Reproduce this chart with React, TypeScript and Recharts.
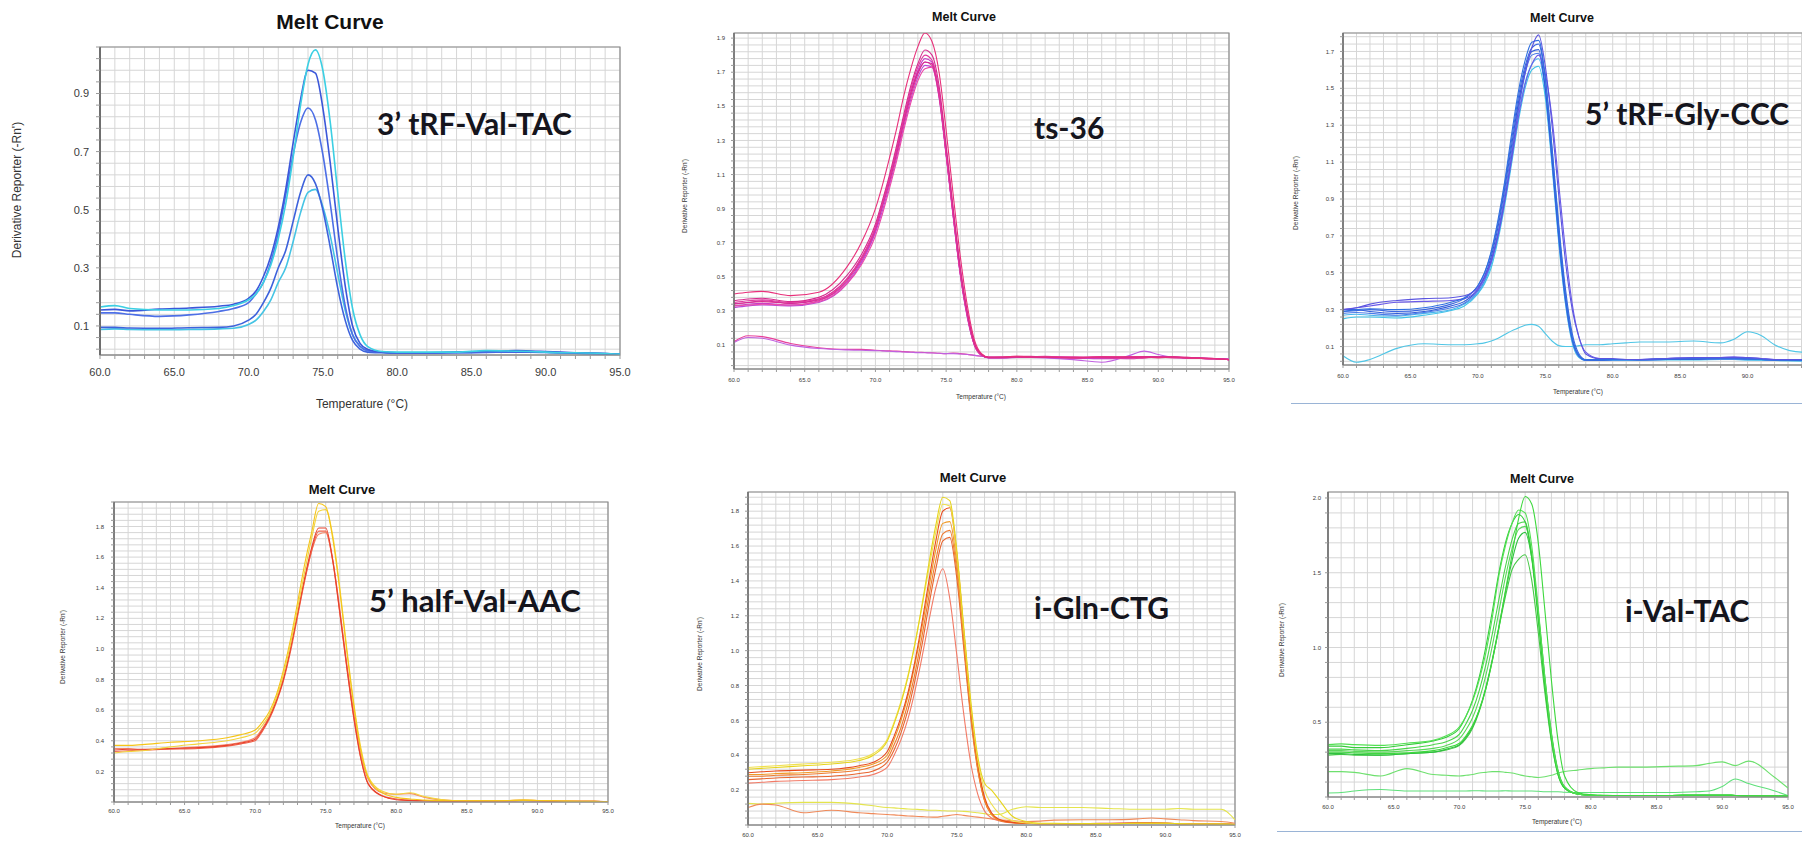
import React from 'react'
import { LineChart, Line, XAxis, YAxis, CartesianGrid, ReferenceArea } from 'recharts'

// sample temperatures (°C) shared by every curve
const TEMPS = [
  60, 61, 62, 64, 66, 68, 69,
  70, 70.5, 71, 71.5, 72, 72.5, 73, 73.5,
  74, 74.5, 75, 75.5, 76, 76.5, 77, 77.5, 78,
  79, 80, 81, 82, 84, 86, 88, 89, 90, 91, 92, 94, 95,
]
const DEG_TICKS = Array.from({ length: 36 }, (_, i) => 60 + i)
const X_LABELS = [60, 65, 70, 75, 80, 85, 90, 95]
// the right-hand screenshot is cropped before its last label
const X_LABELS_CROPPED = [60, 65, 70, 75, 80, 85, 90]

// 3' tRF-Val-TAC
const valTacA = [.165, .17, .16, .155, .155, .16, .17, .19, .21, .25, .31, .40, .52, .68, .86, 1.0, 1.05, .98, .80, .56, .33, .16, .07, .03, .012, .01, .01, .01, .01, .015, .013, .012, .01, .008, .008, .005, .003]
const valTacB = [.155, .157, .152, .158, .162, .168, .175, .195, .22, .27, .34, .44, .57, .73, .88, .98, .97, .85, .66, .44, .24, .10, .04, .02, .01, .008, .008, .008, .01, .012, .015, .014, .012, .01, .008, .005, .003]
const valTacC = [.145, .145, .14, .133, .138, .15, .16, .18, .21, .25, .32, .42, .55, .69, .80, .85, .81, .69, .52, .33, .17, .07, .03, .015, .01, .008, .008, .008, .008, .01, .012, .012, .01, .008, .006, .005, .003]
const valTacD = [.095, .095, .093, .092, .094, .095, .10, .12, .14, .18, .23, .30, .36, .46, .56, .62, .59, .50, .37, .23, .12, .05, .02, .01, .008, .007, .007, .007, .008, .009, .01, .01, .009, .007, .006, .004, .002]
const valTacE = [.088, .09, .088, .087, .088, .09, .092, .105, .12, .15, .19, .25, .30, .39, .49, .56, .57, .51, .41, .28, .155, .07, .03, .015, .01, .008, .008, .008, .01, .012, .012, .011, .01, .008, .006, .004, .002]

// ts-36
const ts36A = [.40, .41, .415, .39, .41, .56, .70, .90, 1.04, 1.20, 1.37, 1.56, 1.72, 1.85, 1.93, 1.88, 1.70, 1.36, .98, .62, .33, .13, .05, .03, .03, .035, .03, .03, .025, .03, .03, .03, .025, .03, .025, .02, .015]
const ts36B = [.36, .37, .375, .355, .38, .51, .63, .81, .95, 1.10, 1.27, 1.45, 1.62, 1.75, 1.83, 1.80, 1.62, 1.27, .90, .55, .29, .11, .045, .027, .028, .03, .032, .028, .026, .03, .028, .03, .03, .032, .028, .022, .015]
const ts36C = [.35, .36, .365, .35, .37, .49, .61, .79, .93, 1.08, 1.25, 1.43, 1.60, 1.73, 1.80, 1.77, 1.58, 1.22, .86, .52, .27, .10, .04, .026, .027, .028, .03, .035, .028, .025, .02, .025, .03, .03, .025, .02, .015]
const ts36D = [.33, .34, .345, .335, .36, .47, .59, .77, .91, 1.06, 1.23, 1.41, 1.58, 1.71, 1.78, 1.76, 1.57, 1.22, .86, .52, .27, .10, .04, .025, .025, .03, .03, .03, .025, .02, .025, .03, .03, .028, .025, .02, .015]
const ts36E = [.34, .35, .355, .345, .365, .48, .60, .78, .92, 1.06, 1.22, 1.40, 1.56, 1.69, 1.76, 1.74, 1.56, 1.22, .86, .52, .27, .10, .04, .026, .026, .028, .03, .03, .03, .028, .03, .032, .03, .028, .025, .02, .015]
const ts36F = [.32, .33, .335, .33, .35, .46, .58, .76, .89, 1.04, 1.20, 1.38, 1.54, 1.67, 1.74, 1.73, 1.55, 1.21, .85, .51, .26, .10, .04, .025, .025, .028, .03, .028, .025, .022, .025, .03, .03, .03, .025, .02, .015]
const ts36G = [.33, .335, .34, .335, .355, .46, .57, .74, .87, 1.02, 1.18, 1.36, 1.52, 1.65, 1.72, 1.73, 1.56, 1.23, .87, .53, .28, .11, .045, .027, .028, .03, .03, .03, .028, .03, .03, .028, .03, .03, .028, .022, .016]
const ts36H = [.345, .35, .36, .345, .37, .49, .61, .79, .93, 1.08, 1.24, 1.42, 1.58, 1.70, 1.76, 1.75, 1.58, 1.25, .89, .55, .29, .11, .045, .027, .027, .03, .03, .03, .028, .03, .03, .03, .032, .03, .026, .02, .015]
const ts36NoiseA = [.12, .155, .15, .11, .085, .075, .075, .07, .068, .066, .065, .062, .06, .058, .057, .055, .052, .05, .054, .05, .046, .04, .035, .03, .03, .035, .035, .03, .025, .03, .025, .025, .03, .025, .025, .02, .02]
const ts36NoiseB = [.115, .145, .14, .10, .08, .072, .07, .068, .066, .064, .062, .06, .058, .056, .055, .054, .052, .05, .05, .048, .045, .04, .035, .03, .03, .03, .028, .025, .015, .0, .04, .065, .045, .03, .025, .02, .018]

// 5' tRF-Gly-CCC
const glyA = [.30, .31, .33, .35, .36, .365, .375, .42, .48, .57, .71, .90, 1.13, 1.38, 1.58, 1.72, 1.79, 1.62, 1.30, .92, .56, .30, .15, .06, .035, .035, .03, .03, .035, .04, .04, .04, .04, .035, .03, .03, .025]
const glyB = [.29, .295, .30, .29, .30, .33, .36, .43, .50, .61, .77, .98, 1.22, 1.45, 1.62, 1.72, 1.74, 1.55, 1.18, .76, .41, .17, .06, .03, .028, .03, .03, .03, .035, .035, .035, .04, .035, .03, .03, .028, .025]
const glyC = [.30, .30, .29, .28, .29, .32, .345, .41, .48, .59, .75, .96, 1.19, 1.42, 1.60, 1.70, 1.71, 1.50, 1.12, .70, .36, .14, .05, .028, .028, .03, .03, .028, .03, .032, .035, .035, .035, .03, .028, .026, .022]
const glyD = [.28, .285, .28, .27, .285, .31, .335, .40, .46, .57, .72, .93, 1.16, 1.40, 1.58, 1.68, 1.69, 1.49, 1.10, .68, .34, .13, .045, .025, .025, .028, .028, .028, .03, .03, .032, .032, .03, .03, .026, .025, .02]
const glyE = [.27, .275, .27, .265, .28, .30, .33, .39, .45, .55, .70, .90, 1.13, 1.36, 1.53, 1.63, 1.66, 1.49, 1.12, .70, .36, .14, .05, .026, .025, .025, .026, .028, .03, .03, .03, .03, .028, .028, .025, .022, .02]
const glyF = [.25, .26, .26, .255, .27, .295, .32, .385, .44, .53, .68, .87, 1.09, 1.32, 1.50, 1.60, 1.62, 1.45, 1.08, .66, .33, .12, .04, .024, .024, .025, .025, .026, .028, .028, .03, .03, .028, .026, .024, .022, .02]
const glyG = [.30, .31, .32, .34, .345, .35, .36, .41, .47, .56, .70, .89, 1.11, 1.34, 1.52, 1.63, 1.68, 1.58, 1.34, .98, .62, .33, .15, .07, .035, .03, .03, .03, .035, .04, .04, .045, .04, .035, .03, .03, .025]
const glyH = [.29, .30, .305, .30, .31, .34, .365, .43, .50, .62, .79, 1.00, 1.25, 1.48, 1.65, 1.75, 1.76, 1.56, 1.17, .74, .38, .15, .05, .028, .028, .03, .03, .03, .032, .035, .035, .035, .032, .03, .028, .026, .022]
const glyNoise = [.05, .015, .03, .09, .115, .11, .11, .115, .12, .13, .145, .165, .185, .20, .215, .22, .21, .17, .13, .105, .10, .10, .105, .11, .11, .115, .12, .125, .125, .13, .12, .14, .18, .16, .11, .07, .075]

// 5' half-Val-AAC
const halfA = [.37, .37, .375, .39, .40, .42, .44, .47, .52, .59, .70, .86, 1.06, 1.30, 1.55, 1.76, 1.95, 1.93, 1.72, 1.38, .98, .62, .33, .16, .06, .03, .02, .012, .008, .008, .01, .012, .01, .008, .006, .004, .002]
const halfB = [.32, .33, .335, .36, .38, .40, .42, .45, .50, .57, .68, .83, 1.03, 1.26, 1.50, 1.72, 1.90, 1.91, 1.74, 1.40, 1.00, .64, .35, .17, .07, .05, .06, .035, .01, .008, .01, .012, .01, .008, .006, .004, .002]
const halfC = [.34, .345, .345, .35, .355, .37, .385, .41, .47, .55, .66, .80, 1.00, 1.23, 1.46, 1.66, 1.79, 1.79, 1.58, 1.24, .88, .55, .28, .12, .04, .015, .01, .008, .006, .006, .008, .01, .008, .006, .005, .004, .002]
const halfD = [.33, .335, .34, .345, .35, .365, .38, .40, .46, .54, .65, .79, .98, 1.21, 1.44, 1.64, 1.77, 1.77, 1.57, 1.23, .87, .54, .28, .12, .04, .02, .012, .008, .006, .006, .008, .01, .008, .006, .005, .004, .002]
const halfE = [.35, .35, .34, .35, .36, .375, .39, .42, .48, .56, .67, .81, 1.00, 1.22, 1.45, 1.64, 1.75, 1.76, 1.58, 1.26, .90, .58, .31, .15, .06, .05, .055, .03, .01, .008, .01, .012, .01, .008, .006, .004, .002]

// i-Gln-CTG
const glnA = [.32, .325, .33, .34, .35, .37, .40, .48, .58, .70, .85, 1.04, 1.26, 1.50, 1.72, 1.88, 1.86, 1.58, 1.14, .72, .40, .24, .20, .15, .05, .02, .01, .01, .008, .008, .01, .01, .01, .008, .006, .005, .003]
const glnB = [.33, .335, .34, .35, .36, .38, .41, .49, .59, .71, .86, 1.04, 1.25, 1.47, 1.68, 1.84, 1.83, 1.56, 1.12, .70, .38, .20, .12, .07, .025, .012, .008, .008, .008, .008, .01, .01, .01, .008, .006, .005, .003]
const glnC = [.30, .305, .31, .315, .32, .34, .36, .42, .51, .62, .76, .94, 1.16, 1.40, 1.63, 1.80, 1.82, 1.56, 1.12, .68, .36, .16, .07, .035, .015, .01, .008, .008, .008, .01, .012, .012, .01, .008, .006, .005, .003]
const glnD = [.29, .29, .295, .30, .31, .33, .35, .40, .49, .60, .74, .92, 1.13, 1.36, 1.58, 1.73, 1.74, 1.50, 1.08, .66, .34, .15, .06, .03, .015, .01, .008, .008, .008, .008, .01, .01, .01, .008, .006, .005, .003]
const glnE = [.28, .28, .285, .29, .30, .315, .335, .38, .46, .56, .70, .87, 1.08, 1.31, 1.52, 1.67, 1.69, 1.46, 1.05, .64, .33, .14, .06, .03, .014, .01, .008, .008, .008, .008, .01, .01, .01, .008, .006, .005, .003]
const glnF = [.26, .265, .27, .275, .28, .295, .31, .36, .43, .53, .66, .83, 1.03, 1.26, 1.47, 1.63, 1.65, 1.42, 1.02, .62, .32, .14, .06, .03, .014, .01, .008, .008, .008, .008, .01, .01, .01, .008, .006, .005, .003]
const glnG = [.24, .245, .25, .255, .26, .275, .29, .33, .40, .49, .61, .77, .96, 1.17, 1.36, 1.47, 1.30, .98, .64, .36, .18, .08, .04, .025, .012, .01, .008, .008, .008, .008, .01, .01, .01, .008, .006, .005, .003]
const glnNoiseA = [.124, .12, .125, .13, .13, .12, .11, .10, .098, .095, .092, .09, .088, .085, .085, .082, .08, .08, .078, .075, .07, .065, .06, .06, .09, .105, .10, .10, .10, .095, .09, .09, .09, .095, .09, .09, .03]
const glnNoiseB = [.10, .12, .115, .07, .085, .07, .065, .06, .058, .055, .052, .05, .048, .046, .045, .05, .055, .06, .055, .05, .045, .04, .035, .03, .025, .02, .022, .028, .03, .03, .035, .04, .035, .03, .025, .02, .01]

// i-Val-TAC
const iValA = [.30, .30, .295, .29, .295, .31, .33, .36, .41, .48, .58, .72, .91, 1.13, 1.38, 1.62, 1.86, 2.01, 1.96, 1.70, 1.25, .78, .38, .14, .03, .015, .012, .01, .01, .01, .012, .012, .012, .01, .008, .006, .004]
const iValB = [.35, .355, .35, .345, .36, .38, .41, .47, .54, .64, .78, .96, 1.20, 1.48, 1.68, 1.83, 1.92, 1.90, 1.68, 1.26, .80, .42, .17, .07, .02, .012, .01, .01, .01, .01, .012, .012, .012, .01, .008, .006, .004]
const iValC = [.34, .34, .33, .33, .35, .375, .40, .46, .54, .65, .80, 1.00, 1.24, 1.50, 1.70, 1.83, 1.89, 1.84, 1.60, 1.18, .74, .38, .15, .06, .02, .012, .01, .01, .01, .01, .012, .012, .012, .01, .008, .006, .004]
const iValD = [.32, .32, .315, .31, .325, .35, .37, .42, .49, .58, .71, .88, 1.09, 1.32, 1.54, 1.72, 1.83, 1.84, 1.62, 1.22, .76, .40, .16, .06, .02, .012, .01, .01, .01, .01, .012, .012, .012, .01, .008, .006, .004]
const iValE = [.29, .29, .285, .28, .29, .30, .32, .35, .40, .47, .58, .73, .92, 1.14, 1.37, 1.58, 1.73, 1.77, 1.60, 1.24, .80, .43, .18, .07, .02, .012, .01, .01, .01, .01, .012, .012, .012, .01, .008, .006, .004]
const iValF = [.31, .31, .305, .30, .31, .325, .345, .39, .45, .53, .65, .81, 1.01, 1.24, 1.47, 1.66, 1.79, 1.81, 1.62, 1.22, .78, .41, .17, .06, .02, .012, .01, .01, .01, .01, .012, .012, .012, .01, .008, .006, .004]
const iValG = [.28, .285, .28, .28, .29, .30, .315, .345, .39, .46, .57, .72, .91, 1.13, 1.34, 1.52, 1.59, 1.62, 1.45, 1.10, .70, .37, .15, .06, .02, .012, .01, .01, .01, .01, .012, .012, .012, .01, .008, .006, .004]
const iValNoiseA = [.17, .17, .165, .14, .19, .15, .145, .14, .145, .15, .16, .165, .17, .17, .165, .16, .15, .14, .135, .13, .135, .145, .16, .17, .18, .19, .195, .20, .20, .205, .21, .225, .235, .21, .24, .13, .06]
const iValNoiseB = [.027, .03, .04, .05, .04, .04, .04, .04, .04, .042, .042, .04, .04, .04, .042, .04, .04, .04, .04, .038, .035, .035, .035, .032, .03, .03, .03, .03, .03, .03, .035, .04, .07, .12, .09, .04, .01]

type Curve = { values: number[]; color: string }
type Spot = { x: number; y: number }
type PanelSpec = {
  plot: { x: number; y: number; w: number; h: number }
  yDomain: [number, number]
  gridStart: number
  gridStep: number
  yLabels: number[]
  xLabels: number[]
  tickFont: number
  tickSize: number
  xTickMargin: number
  yTickMargin: number
  axisWidth: number
  strokeWidth: number
  title: Spot & { size: number }
  annot: Spot & { text: string; size: number }
  yLabel: Spot & { size: number }
  xLabel: (Spot & { size: number }) | null
  curves: Curve[]
}

const PANELS: PanelSpec[] = [
  {
    plot: { x: 100, y: 47, w: 520, h: 308 },
    yDomain: [0, 1.06], gridStart: 0.02, gridStep: 0.04,
    yLabels: [0.1, 0.3, 0.5, 0.7, 0.9], xLabels: X_LABELS,
    tickFont: 11, tickSize: 4, xTickMargin: 9, yTickMargin: 7, axisWidth: 2, strokeWidth: 1.6,
    title: { x: 330, y: 21, size: 21 },
    annot: { x: 377, y: 123, text: '3’ tRF-Val-TAC', size: 30 },
    yLabel: { x: 17, y: 190, size: 12 },
    xLabel: { x: 362, y: 404, size: 12 },
    curves: [
      { values: valTacE, color: '#45c4e4' },
      { values: valTacD, color: '#3d62dc' },
      { values: valTacC, color: '#4d6fe6' },
      { values: valTacB, color: '#3b57d9' },
      { values: valTacA, color: '#3ccfe3' },
    ],
  },
  {
    plot: { x: 734, y: 33, w: 495, h: 336 },
    yDomain: [-0.04, 1.93], gridStart: -0.02, gridStep: 0.04,
    yLabels: [0.1, 0.3, 0.5, 0.7, 0.9, 1.1, 1.3, 1.5, 1.7, 1.9], xLabels: X_LABELS,
    tickFont: 6, tickSize: 3, xTickMargin: 6, yTickMargin: 6, axisWidth: 1.5, strokeWidth: 1.1,
    title: { x: 964, y: 17, size: 12.5 },
    annot: { x: 1034, y: 127, text: 'ts-36', size: 30 },
    yLabel: { x: 685, y: 196, size: 6.5 },
    xLabel: { x: 981, y: 397, size: 6.5 },
    curves: [
      { values: ts36NoiseA, color: '#e8409a' },
      { values: ts36NoiseB, color: '#c060e0' },
      { values: ts36F, color: '#b84ad8' },
      { values: ts36D, color: '#c63cc8' },
      { values: ts36G, color: '#ea4aa8' },
      { values: ts36E, color: '#e0308c' },
      { values: ts36H, color: '#d2289a' },
      { values: ts36C, color: '#e03aa0' },
      { values: ts36B, color: '#d62a8e' },
      { values: ts36A, color: '#e8307a' },
    ],
  },
  {
    plot: { x: 1343, y: 33, w: 472, h: 332 },
    yDomain: [0, 1.8], gridStart: 0.02, gridStep: 0.04,
    yLabels: [0.1, 0.3, 0.5, 0.7, 0.9, 1.1, 1.3, 1.5, 1.7], xLabels: X_LABELS_CROPPED,
    tickFont: 6, tickSize: 3, xTickMargin: 5.5, yTickMargin: 6, axisWidth: 1.5, strokeWidth: 1.1,
    title: { x: 1562, y: 18, size: 12.5 },
    annot: { x: 1585, y: 113, text: '5’ tRF-Gly-CCC', size: 30 },
    yLabel: { x: 1296, y: 193, size: 6.5 },
    xLabel: { x: 1578, y: 392, size: 6.5 },
    curves: [
      { values: glyNoise, color: '#50c6e6' },
      { values: glyF, color: '#40c4e8' },
      { values: glyE, color: '#48b4ec' },
      { values: glyD, color: '#4a7ae8' },
      { values: glyC, color: '#2f5cd8' },
      { values: glyG, color: '#6a5ae8' },
      { values: glyB, color: '#3a66e0' },
      { values: glyH, color: '#3070e0' },
      { values: glyA, color: '#5b55e0' },
    ],
  },
  {
    plot: { x: 114, y: 502, w: 494, h: 300 },
    yDomain: [0, 1.96], gridStart: 0, gridStep: 0.04,
    yLabels: [0.2, 0.4, 0.6, 0.8, 1.0, 1.2, 1.4, 1.6, 1.8], xLabels: X_LABELS,
    tickFont: 6, tickSize: 3, xTickMargin: 4, yTickMargin: 7, axisWidth: 1.5, strokeWidth: 1.1,
    title: { x: 342, y: 489, size: 13 },
    annot: { x: 369, y: 600, text: '5’ half-Val-AAC', size: 31 },
    yLabel: { x: 63, y: 647, size: 6.5 },
    xLabel: { x: 360, y: 826, size: 6.5 },
    curves: [
      { values: halfE, color: '#f4876a' },
      { values: halfD, color: '#f0624a' },
      { values: halfC, color: '#e8402c' },
      { values: halfB, color: '#f3d43c' },
      { values: halfA, color: '#f5c518' },
    ],
  },
  {
    plot: { x: 748, y: 492, w: 487, h: 333 },
    yDomain: [0, 1.91], gridStart: 0, gridStep: 0.04,
    yLabels: [0.2, 0.4, 0.6, 0.8, 1.0, 1.2, 1.4, 1.6, 1.8], xLabels: X_LABELS,
    tickFont: 6, tickSize: 3, xTickMargin: 5, yTickMargin: 6, axisWidth: 1.5, strokeWidth: 1.1,
    title: { x: 973, y: 477, size: 13 },
    annot: { x: 1034, y: 607, text: 'i-Gln-CTG', size: 30 },
    yLabel: { x: 700, y: 654, size: 6.5 },
    // the axis title of this screenshot falls below the picture's bottom edge
    xLabel: null,
    curves: [
      { values: glnNoiseA, color: '#e4e44c' },
      { values: glnNoiseB, color: '#f08a5a' },
      { values: glnG, color: '#f27a66' },
      { values: glnF, color: '#e8642e' },
      { values: glnE, color: '#ee7a30' },
      { values: glnD, color: '#f09a28' },
      { values: glnC, color: '#e84a1c' },
      { values: glnB, color: '#f0e050' },
      { values: glnA, color: '#e6d41c' },
    ],
  },
  {
    plot: { x: 1328, y: 492, w: 460, h: 305 },
    yDomain: [0, 2.04], gridStart: 0, gridStep: 0.1,
    yLabels: [0.5, 1.0, 1.5, 2.0], xLabels: X_LABELS,
    tickFont: 6, tickSize: 3, xTickMargin: 5, yTickMargin: 4, axisWidth: 1.5, strokeWidth: 1.1,
    title: { x: 1542, y: 479, size: 12.5 },
    annot: { x: 1625, y: 610, text: 'i-Val-TAC', size: 30 },
    yLabel: { x: 1282, y: 640, size: 6.5 },
    xLabel: { x: 1557, y: 822, size: 6.5 },
    curves: [
      { values: iValNoiseA, color: '#6ee06e' },
      { values: iValNoiseB, color: '#5ee07a' },
      { values: iValG, color: '#46c846' },
      { values: iValE, color: '#2fc040' },
      { values: iValF, color: '#5ad85a' },
      { values: iValD, color: '#48d448' },
      { values: iValC, color: '#34cc3a' },
      { values: iValB, color: '#52e052' },
      { values: iValA, color: '#3ed83e' },
    ],
  },
]

const SANS = '"Liberation Sans", Arial, sans-serif'

function gridTicks(start: number, step: number, max: number) {
  const out: number[] = []
  for (let v = start; v <= max + 1e-9; v += step) out.push(Math.round(v * 1000) / 1000)
  return out
}

function MeltPanel({ p }: { p: PanelSpec }) {
  const YW = 50, XH = 30, MT = 12, MR = 12
  const rows = TEMPS.map((t, i) => {
    const row: Record<string, number> = { t }
    p.curves.forEach((c, k) => { row['s' + k] = c.values[i] })
    return row
  })
  const yTicks = gridTicks(p.gridStart, p.gridStep, p.yDomain[1])
  const isMajor = (v: number) => p.yLabels.some(m => Math.abs(m - v) < 1e-6)
  const tick = { fontSize: p.tickFont, fill: '#3a3a3a', fontFamily: SANS }

  return (
    <>
      <div style={{ position: 'absolute', left: p.plot.x - YW, top: p.plot.y - MT }}>
        <LineChart
          width={YW + p.plot.w + MR}
          height={MT + p.plot.h + XH}
          data={rows}
          margin={{ top: MT, right: MR, bottom: 0, left: 0 }}
        >
          <CartesianGrid stroke="#d6d6d6" strokeWidth={1} />
          <XAxis
            dataKey="t"
            type="number"
            domain={[60, 95]}
            ticks={DEG_TICKS}
            interval={0}
            height={XH}
            allowDataOverflow
            tickFormatter={(v: number) => (p.xLabels.includes(v) ? v.toFixed(1) : '')}
            tick={tick}
            tickSize={p.tickSize}
            tickMargin={p.xTickMargin}
            axisLine={{ stroke: '#8c8c8c' }}
            tickLine={{ stroke: '#9a9a9a' }}
          />
          <YAxis
            type="number"
            domain={p.yDomain}
            ticks={yTicks}
            interval={0}
            width={YW}
            allowDataOverflow
            tickFormatter={(v: number) => (isMajor(v) ? v.toFixed(1) : '')}
            tick={tick}
            tickSize={p.tickSize}
            tickMargin={p.yTickMargin}
            axisLine={{ stroke: '#6e6e6e', strokeWidth: p.axisWidth }}
            tickLine={{ stroke: '#9a9a9a' }}
          />
          {p.curves.map((c, k) => (
            <Line
              key={k}
              type="monotone"
              dataKey={'s' + k}
              stroke={c.color}
              strokeWidth={p.strokeWidth}
              dot={false}
              activeDot={false}
              isAnimationActive={false}
            />
          ))}
          <ReferenceArea
            x1={60}
            x2={95}
            y1={p.yDomain[0]}
            y2={p.yDomain[1]}
            fill="none"
            fillOpacity={0}
            stroke="#8c8c8c"
            strokeWidth={1.2}
          />
        </LineChart>
      </div>
      <div style={{
        position: 'absolute', left: p.title.x, top: p.title.y, transform: 'translate(-50%, -50%)',
        fontFamily: SANS, fontWeight: 700, fontSize: p.title.size, color: '#111', whiteSpace: 'nowrap', lineHeight: 1,
      }}>Melt Curve</div>
      <div style={{
        position: 'absolute', left: p.annot.x, top: p.annot.y, transform: 'translateY(-50%)',
        fontFamily: 'Lato, "Open Sans", sans-serif', fontWeight: 700, fontSize: p.annot.size, color: '#15151d',
        whiteSpace: 'nowrap', lineHeight: 1,
      }}>{p.annot.text}</div>
      <div style={{
        position: 'absolute', left: p.yLabel.x, top: p.yLabel.y, transform: 'translate(-50%, -50%) rotate(-90deg)',
        fontFamily: SANS, fontSize: p.yLabel.size, color: '#333', whiteSpace: 'nowrap', lineHeight: 1,
      }}>Derivative Reporter (-Rn')</div>
      {p.xLabel && (
        <div style={{
          position: 'absolute', left: p.xLabel.x, top: p.xLabel.y, transform: 'translate(-50%, -50%)',
          fontFamily: SANS, fontSize: p.xLabel.size, color: '#333', whiteSpace: 'nowrap', lineHeight: 1,
        }}>Temperature (°C)</div>
      )}
    </>
  )
}

export default function App() {
  return (
    <div style={{
      position: 'absolute', left: 0, top: 0, width: 1802, height: 843,
      overflow: 'hidden', background: '#fff',
    }}>
      {PANELS.map((p, i) => <MeltPanel key={i} p={p} />)}
      {/* leftover scroll bars under the right-hand screenshots */}
      <div style={{ position: 'absolute', left: 1291, top: 403, width: 511, height: 1, background: '#9ab4d6' }} />
      <div style={{ position: 'absolute', left: 1277, top: 831, width: 525, height: 1, background: '#9ab4d6' }} />
    </div>
  )
}
